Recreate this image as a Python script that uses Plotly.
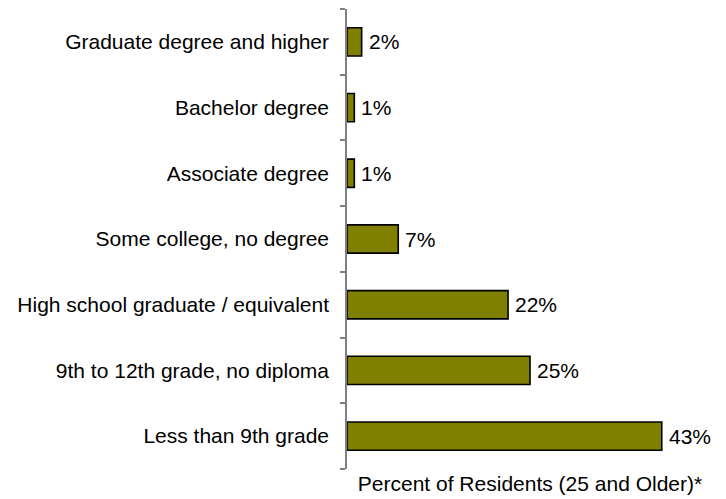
import plotly.graph_objects as go

# Educational attainment, residents 25 and older
categories = [
    "Less than 9th grade",
    "9th to 12th grade, no diploma",
    "High school graduate / equivalent",
    "Some college, no degree",
    "Associate degree",
    "Bachelor degree",
    "Graduate degree and higher",
]
percents = [43, 25, 22, 7, 1, 1, 2]
value_labels = [f"{p}%" for p in percents]

FONT = "Liberation Sans, Arial, sans-serif"
FS = 21

fig = go.Figure(
    go.Bar(
        x=percents,
        y=categories,
        orientation="h",
        marker=dict(color="#808000", line=dict(color="#000000", width=1.6)),
        width=0.43,
        hoverinfo="skip",
    )
)

# value labels just past the end of each bar
for cat, val, lab in zip(categories, percents, value_labels):
    fig.add_annotation(
        x=val, y=cat, text=lab, showarrow=False,
        xanchor="left", yanchor="middle", xshift=5,
        font=dict(family=FONT, size=FS, color="#000000"),
    )

fig.update_layout(
    width=726,
    height=499,
    margin=dict(l=347, r=13, t=9, b=30),
    paper_bgcolor="white",
    plot_bgcolor="white",
    showlegend=False,
    font=dict(family=FONT, size=FS, color="#000000"),
    xaxis=dict(
        range=[0, 50],
        showgrid=False,
        zeroline=False,
        showline=False,
        showticklabels=False,
        ticks="",
        fixedrange=True,
        title=dict(
            text="Percent of Residents (25 and Older)*",
            font=dict(family=FONT, size=FS, color="#000000"),
            standoff=7,
        ),
        automargin=False,
    ),
    yaxis=dict(
        type="category",
        categoryorder="array",
        categoryarray=categories,
        showgrid=False,
        zeroline=False,
        showline=True,
        linecolor="#808080",
        linewidth=1.5,
        ticks="outside",
        tickson="boundaries",
        ticklen=5,
        tickcolor="#808080",
        tickwidth=1.5,
        ticklabelstandoff=12,
        tickfont=dict(family=FONT, size=FS, color="#000000"),
        automargin=False,
        fixedrange=True,
    ),
)

fig.write_html("out.html")
